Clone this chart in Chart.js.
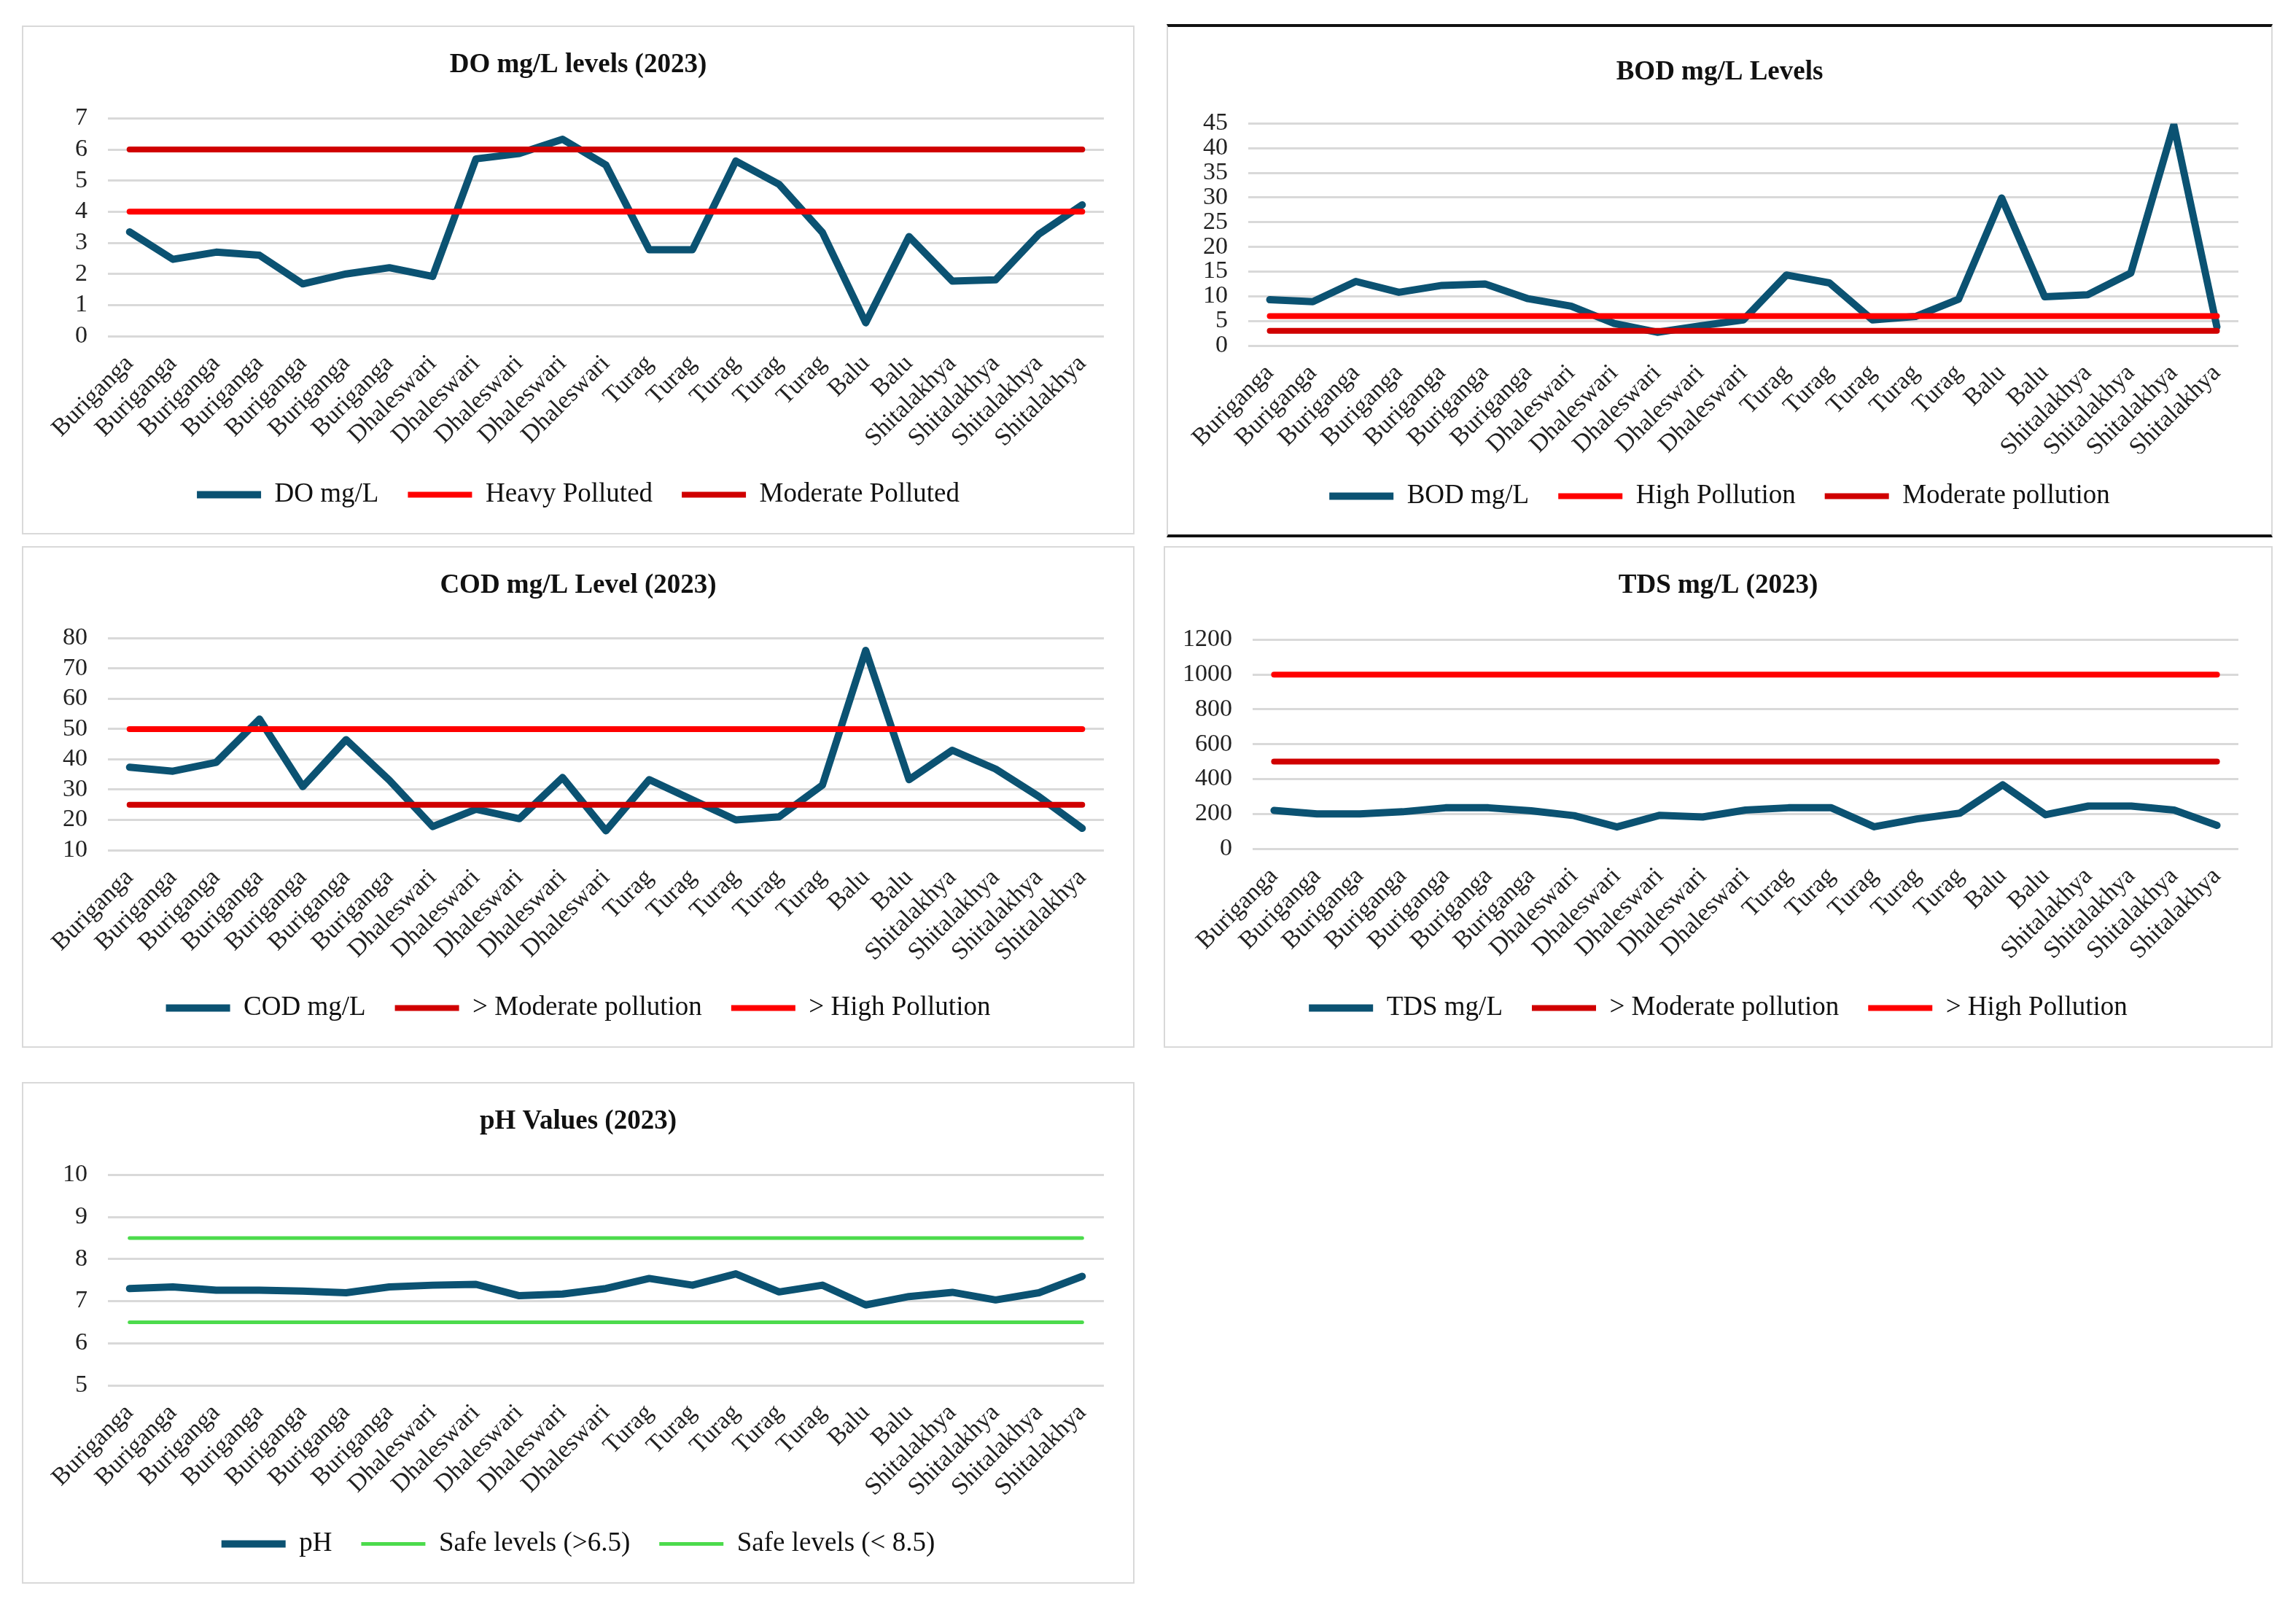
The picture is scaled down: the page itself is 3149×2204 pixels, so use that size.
<!DOCTYPE html>
<html>
<head>
<meta charset="utf-8">
<script src="https://cdn.jsdelivr.net/npm/chart.js@4.4.1/dist/chart.umd.min.js"></script>
<style>
  html, body { margin: 0; padding: 0; background: #fff; }
  body { width: 3149px; height: 2204px; position: relative; overflow: hidden; }
  .panel { position: absolute; box-sizing: border-box; border: 2px solid #d9d9d9; background: #fff; }
  .panel canvas { position: absolute; left: 0; top: 0; }
  .dark { border-top: 4px solid #111; border-bottom: 4px solid #111; }
</style>
</head>
<body>
<div class="panel" style="left:30px;top:35px;width:1526px;height:698px"><canvas id="doChart"></canvas></div>
<div class="panel dark" style="left:1600px;top:33px;width:1517px;height:704px"><canvas id="bodChart"></canvas></div>
<div class="panel" style="left:30px;top:749px;width:1526px;height:688px"><canvas id="codChart"></canvas></div>
<div class="panel" style="left:1596px;top:749px;width:1521px;height:688px"><canvas id="tdsChart"></canvas></div>
<div class="panel" style="left:30px;top:1484px;width:1526px;height:688px"><canvas id="phChart"></canvas></div>
<script>
// Sampling sites (23 stations)
const sites = [
    'Buriganga', 'Buriganga', 'Buriganga', 'Buriganga', 'Buriganga', 'Buriganga', 'Buriganga',
    'Dhaleswari', 'Dhaleswari', 'Dhaleswari', 'Dhaleswari', 'Dhaleswari',
    'Turag', 'Turag', 'Turag', 'Turag', 'Turag',
    'Balu', 'Balu',
    'Shitalakhya', 'Shitalakhya', 'Shitalakhya', 'Shitalakhya'
];

// Measured values
const doValues  = [3.35, 2.47, 2.7, 2.6, 1.68, 2.0, 2.2, 1.92, 5.7, 5.87, 6.33, 5.5, 2.78, 2.78, 5.63, 4.88, 3.33, 0.43, 3.2, 1.77, 1.81, 3.28, 4.22];
const bodValues = [9.3, 8.9, 13, 10.8, 12.2, 12.5, 9.5, 8, 4.5, 2.7, 4, 5.2, 14.3, 12.7, 5.2, 5.9, 9.4, 29.9, 9.9, 10.3, 14.7, 44.7, 3.8];
const codValues = [37.4, 36.1, 39, 53.3, 31, 46.5, 33.1, 17.8, 23.5, 20.4, 34, 16.4, 33.3, 26.6, 20, 21, 31.5, 76, 33.3, 43, 36.8, 27.7, 17.2];
const tdsValues = [220, 200, 200, 212, 235, 235, 218, 190, 125, 192, 182, 222, 235, 235, 126, 171, 204, 367, 195, 245, 245, 222, 134];
const phValues  = [7.30, 7.34, 7.26, 7.26, 7.24, 7.20, 7.34, 7.38, 7.40, 7.13, 7.17, 7.30, 7.54, 7.38, 7.65, 7.22, 7.38, 6.91, 7.11, 7.21, 7.03, 7.20, 7.59];

// Threshold levels (constant guide lines)
const doHeavy = 4, doModerate = 6;
const bodHigh = 6, bodModerate = 3;
const codModerate = 25, codHigh = 50;
const tdsModerate = 500, tdsHigh = 1000;
const phSafeLow = 6.5, phSafeHigh = 8.5;

// Axis ticks
const doTicks  = { min: 0, max: 7, step: 1 };
const bodTicks = { min: 0, max: 45, step: 5 };
const codTicks = { min: 10, max: 80, step: 10 };
const tdsTicks = { min: 0, max: 1200, step: 200 };
const phTicks  = { min: 5, max: 10, step: 1 };

const TEAL = '#0b5272';
const RED = '#ff0000';
const DARKRED = '#d00000';
const GREEN = '#4cdb4c';
const FONT = "'Liberation Serif', 'Times New Roman', serif";

const flat = v => sites.map(() => v);

function mainSet(label, data) {
    return { label: label, data: data, borderColor: TEAL, backgroundColor: TEAL,
             borderWidth: 10, pointRadius: 0, tension: 0, order: 2,
             borderCapStyle: 'round', borderJoinStyle: 'round' };
}
function refSet(label, value, color, width) {
    return { label: label, data: flat(value), borderColor: color, backgroundColor: color,
             borderWidth: width || 8, pointRadius: 0, order: 1,
             borderCapStyle: 'round' };
}

function makeChart(id, w, h, title, datasets, tk, opts) {
    const cv = document.getElementById(id);
    cv.width = w; cv.height = h;
    cv.style.width = w + 'px'; cv.style.height = h + 'px';
    return new Chart(cv.getContext('2d'), {
        type: 'line',
        data: { labels: sites, datasets: datasets },
        options: {
            responsive: false,
            animation: false,
            devicePixelRatio: 1,
            layout: { padding: { top: opts.padTop, right: 0, bottom: opts.padBottom, left: 0 } },
            plugins: {
                title: {
                    display: true, text: title, color: '#111',
                    font: { family: FONT, size: 37, weight: 'bold' },
                    padding: { top: 0, bottom: opts.titleGap }
                },
                legend: {
                    position: 'bottom',
                    labels: {
                        usePointStyle: true, pointStyle: 'line', pointStyleWidth: 88,
                        color: '#111', padding: 40,
                        font: { family: FONT, size: 37 },
                        sort: (a, b) => a.datasetIndex - b.datasetIndex
                    }
                },
                tooltip: { enabled: false }
            },
            scales: {
                x: {
                    offset: true,
                    grid: { display: false },
                    border: { display: false },
                    ticks: {
                        color: '#222', minRotation: 45, maxRotation: 45, autoSkip: false,
                        padding: 10,
                        font: { family: FONT, size: 34 }
                    },
                    afterFit: s => { s.height = opts.xHeight; }
                },
                y: {
                    min: tk.min, max: tk.max,
                    grid: { color: '#d9d9d9', lineWidth: 3, drawTicks: false },
                    border: { display: false },
                    ticks: {
                        stepSize: tk.step, color: '#222', padding: 28, autoSkip: false,
                        font: { family: FONT, size: 34, lineHeight: 0.8 },
                        callback: v => String(v)
                    },
                    afterFit: s => { s.width = opts.yWidth; }
                },
                // empty right-hand spacer so title and legend stay centred on the panel
                spacer: {
                    type: 'linear', position: 'right',
                    grid: { display: false }, border: { display: false },
                    ticks: { display: false },
                    afterFit: s => { s.width = opts.padRight; }
                }
            }
        }
    });
}

const base = { padTop: 30, padRight: 40, padBottom: 24, titleGap: 51, xHeight: 159, yWidth: 116 };

makeChart('doChart', 1522, 694, 'DO mg/L levels (2023)', [
    mainSet('DO mg/L', doValues),
    refSet('Heavy Polluted', doHeavy, RED),
    refSet('Moderate Polluted', doModerate, DARKRED)
], doTicks, base);

makeChart('bodChart', 1513, 696, 'BOD mg/L Levels', [
    mainSet('BOD mg/L', bodValues),
    refSet('High Pollution', bodHigh, RED),
    refSet('Moderate pollution', bodModerate, DARKRED)
], bodTicks, Object.assign({}, base, { padTop: 40, padRight: 45, yWidth: 110, titleGap: 48, xHeight: 148 }));

makeChart('codChart', 1522, 684, 'COD mg/L Level (2023)', [
    mainSet('COD mg/L', codValues),
    refSet('> Moderate pollution', codModerate, DARKRED),
    refSet('> High Pollution', codHigh, RED)
], codTicks, Object.assign({}, base, { titleGap: 50, xHeight: 158 }));

makeChart('tdsChart', 1517, 684, 'TDS mg/L (2023)', [
    mainSet('TDS mg/L', tdsValues),
    refSet('> Moderate pollution', tdsModerate, DARKRED),
    refSet('> High Pollution', tdsHigh, RED)
], tdsTicks, Object.assign({}, base, { padRight: 45, yWidth: 120, titleGap: 52, xHeight: 160 }));

makeChart('phChart', 1522, 684, 'pH Values (2023)', [
    mainSet('pH', phValues),
    refSet('Safe levels (>6.5)', phSafeLow, GREEN, 5),
    refSet('Safe levels (< 8.5)', phSafeHigh, GREEN, 5)
], phTicks, base);
</script>
</body>
</html>
